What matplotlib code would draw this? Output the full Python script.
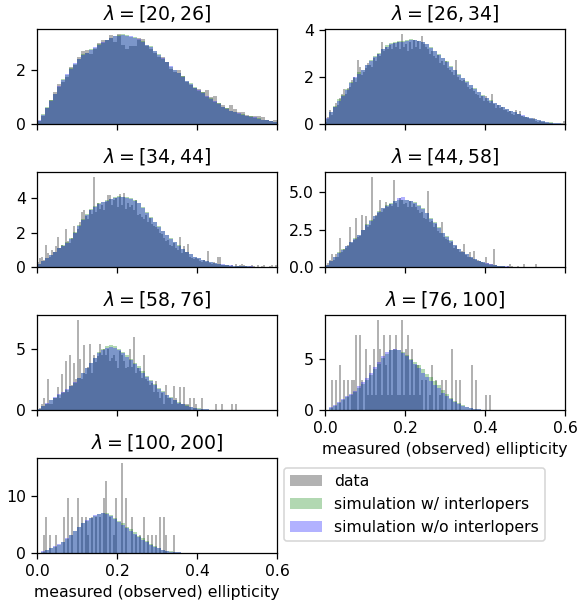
import numpy as np
import matplotlib
matplotlib.use("Agg")
import matplotlib.pyplot as plt

# richness bins
lam_bins = ["[20, 26]", "[26, 34]", "[34, 44]", "[44, 58]",
            "[58, 76]", "[76, 100]", "[100, 200]"]

# bin widths (ellipticity) used for the data / simulation histograms
data_width = [0.01, 0.005, 0.005, 0.005, 0.005, 0.005, 0.005]
sim_width = 0.01

# --- observed data, density per bin ---
data_20_26 = [0.1, 0.3, 0.6, 0.9, 1.2, 1.5, 1.55, 1.75, 2.1, 2.2,
              2.5, 2.7, 2.75, 2.6, 2.8, 3.0, 3.1, 3.1, 3.3, 3.05,
              3.35, 2.95, 2.8, 2.9, 2.9, 3.2, 3.15, 2.9, 2.8, 2.65,
              2.5, 2.5, 2.3, 2.05, 1.95, 2.0, 1.8, 1.55, 1.45, 1.35,
              1.3, 1.2, 1.25, 1.0, 1.05, 0.8, 0.7, 0.6, 0.7, 0.55,
              0.45, 0.45, 0.35, 0.3, 0.3, 0.3, 0.25, 0.15, 0.1, 0.15]
data_26_34 = [0.1, 0.3, 0.6, 0.4, 0.75, 0.9, 0.8, 1.1, 1.3, 1.5,
              1.3, 1.55, 1.6, 1.9, 2.0, 1.8, 2.75, 2.45, 2.1, 2.2,
              2.4, 2.6, 2.5, 2.45, 2.8, 2.7, 3.0, 2.9, 3.5, 3.1,
              3.3, 3.2, 3.35, 3.2, 3.45, 3.3, 3.5, 3.2, 3.85, 3.3,
              3.4, 3.1, 3.5, 3.2, 3.6, 3.3, 3.55, 3.2, 3.75, 3.4,
              3.3, 3.2, 3.0, 3.1, 2.9, 2.8, 2.95, 2.6, 2.7, 2.5,
              2.7, 2.4, 2.3, 2.2, 2.1, 2.75, 2.0, 1.9, 1.85, 1.9,
              1.75, 1.6, 1.5, 1.55, 1.4, 1.3, 1.25, 1.1, 1.2, 1.0,
              1.2, 1.0, 0.9, 1.3, 0.85, 0.7, 0.8, 0.7, 0.75, 0.6,
              0.6, 0.5, 0.55, 0.45, 0.4, 0.6, 0.45, 0.55, 0.35, 0.3,
              0.3, 0.25, 0.2, 0.2, 0.25, 0.15, 0.1, 0.12, 0.1, 0.08,
              0.05, 0.05, 0.03, 0.03, 0.02, 0.02, 0.0, 0.0, 0.05, 0.15]
data_34_44 = [0.3, 0.5, 0.6, 0.4, 1.3, 0.8, 0.6, 1.0, 0.9, 1.2,
              1.75, 1.1, 1.3, 1.2, 2.2, 1.5, 1.4, 1.7, 2.4, 2.0,
              2.2, 2.6, 3.2, 3.3, 2.95, 2.8, 3.3, 3.1, 5.25, 3.2,
              3.7, 3.4, 3.6, 3.3, 3.8, 4.2, 4.2, 3.6, 3.9, 4.0,
              3.5, 4.25, 3.6, 4.3, 3.4, 3.7, 3.5, 3.6, 3.3, 3.9,
              3.0, 3.1, 2.9, 2.8, 3.0, 2.6, 2.85, 2.5, 2.4, 2.3,
              2.2, 2.0, 1.9, 1.7, 1.5, 1.6, 1.3, 1.2, 1.4, 1.1,
              1.0, 1.75, 0.8, 1.2, 0.9, 1.35, 0.6, 0.5, 0.45, 0.5,
              0.45, 0.35, 0.3, 0.4, 0.3, 0.95, 0.25, 0.2, 0.3, 0.2,
              0.6, 0.6, 0.15, 0.1, 0.15, 0.1, 0.05, 0.1, 0.0, 0.2,
              0.05, 0.15, 0.2, 0.1, 0.05, 0.0, 0.05, 0.1, 0.05, 0.0,
              0.1, 0.0, 0.05, 0.15, 0.0, 0.0, 0.05, 0.1, 0.0, 0.1]
data_44_58 = [0.1, 0.3, 0.5, 0.9, 0.5, 0.9, 0.7, 1.95, 1.0, 1.2,
              1.3, 1.5, 2.7, 1.6, 1.8, 3.3, 2.0, 2.1, 3.5, 2.5,
              3.45, 2.7, 2.8, 6.05, 3.2, 3.5, 3.6, 4.5, 3.7, 3.9,
              4.35, 4.0, 4.2, 4.1, 5.8, 4.3, 4.0, 4.6, 4.5, 4.2,
              4.3, 4.0, 4.4, 4.0, 4.2, 4.0, 3.8, 3.6, 3.7, 3.3,
              3.2, 5.1, 3.0, 3.1, 2.7, 2.9, 2.4, 2.3, 3.0, 2.0,
              1.9, 1.8, 1.6, 1.65, 1.3, 1.4, 1.2, 1.0, 1.1, 1.55,
              0.8, 0.7, 1.0, 0.6, 1.1, 0.5, 0.45, 0.4, 0.35, 0.3,
              0.65, 0.25, 0.2, 0.2, 1.2, 0.15, 0.1, 0.1, 0.05, 0.1,
              0.0, 0.05, 0.2, 0.05, 0.0, 0.0, 0.05, 0.0, 0.0, 0.2,
              0.0, 0.0, 0.0, 0.0, 0.0, 0.2]
data_58_76 = [0.0, 0.2, 0.5, 1.0, 0.5, 2.5, 0.5, 0.5, 1.0, 1.0,
              1.85, 1.0, 2.9, 1.5, 4.0, 1.5, 4.45, 2.0, 3.8, 2.5,
              7.35, 4.15, 2.5, 5.3, 2.9, 3.5, 5.4, 3.0, 4.5, 3.9,
              4.4, 5.4, 4.5, 5.0, 4.5, 5.0, 4.0, 4.2, 4.5, 4.0,
              3.4, 4.8, 4.45, 4.0, 3.4, 3.5, 5.0, 3.5, 5.9, 3.0,
              3.4, 3.2, 2.6, 4.45, 2.5, 2.4, 2.0, 2.2, 1.5, 2.4,
              1.5, 1.0, 1.4, 0.5, 2.0, 1.0, 1.0, 0.5, 1.95, 1.0,
              0.5, 1.9, 0.5, 1.9, 0.5, 0.5, 1.0, 0.0, 1.0, 0.5,
              0.0, 0.0, 1.0, 0.0, 0.0, 0.0, 0.0, 0.0, 0.0, 0.5,
              0.0, 0.0, 0.5, 0.0, 0.0, 0.0, 0.0, 0.5, 0.0, 0.5]
data_76_100 = [0.0, 0.0, 0.0, 2.9, 0.0, 2.9, 0.0, 4.4, 0.0, 2.9,
               0.0, 2.9, 0.0, 2.9, 2.9, 7.3, 0.0, 7.3, 2.9, 0.0,
               5.9, 1.5, 4.4, 1.5, 5.9, 1.5, 8.8, 5.9, 1.5, 7.3,
               4.4, 1.5, 7.3, 1.5, 5.9, 7.3, 1.5, 1.5, 8.8, 1.5,
               5.9, 7.3, 1.5, 5.9, 1.5, 4.4, 4.4, 1.5, 2.9, 0.0,
               2.9, 0.0, 1.5, 4.4, 0.0, 2.9, 0.0, 1.5, 2.9, 0.0,
               2.9, 0.0, 0.0, 5.9, 0.0, 2.9, 0.0, 2.9, 0.0, 0.0,
               0.0, 0.0, 0.0, 4.4, 0.0, 2.9, 0.0, 0.0, 0.0, 0.0,
               1.5, 0.0, 1.5]
data_100_200 = [0.0, 0.0, 0.0, 3.2, 6.4, 0.0, 3.2, 0.0, 0.0, 3.2,
                0.0, 0.0, 0.0, 6.4, 0.0, 9.6, 0.0, 6.4, 0.0, 0.0,
                9.6, 0.0, 6.4, 0.0, 6.4, 3.2, 0.0, 6.4, 0.0, 6.4,
                0.0, 6.4, 0.0, 9.6, 12.7, 0.0, 6.4, 0.0, 3.2, 9.6,
                0.0, 0.0, 15.9, 0.0, 9.6, 0.0, 0.0, 6.4, 0.0, 3.2,
                0.0, 3.2, 0.0, 6.4, 0.0, 3.2, 0.0, 3.2, 0.0, 3.2,
                0.0, 6.4, 0.0, 6.4, 3.2, 0.0, 0.0, 0.0, 3.2]

# --- simulation with interlopers ---
sim_w_20_26 = [0.12, 0.38, 0.62, 0.9, 1.12, 1.38, 1.68, 1.82, 2.08, 2.22,
               2.42, 2.6, 2.62, 2.78, 2.82, 2.98, 3.02, 3.12, 3.18, 3.28,
               3.32, 3.35, 3.3, 3.22, 3.22, 3.12, 3.08, 2.92, 2.88, 2.72,
               2.58, 2.42, 2.32, 2.12, 2.02, 1.88, 1.78, 1.58, 1.52, 1.38,
               1.22, 1.18, 1.02, 0.98, 0.82, 0.78, 0.62, 0.58, 0.48, 0.46,
               0.38, 0.36, 0.3, 0.29, 0.24, 0.21, 0.16, 0.15, 0.11, 0.09]
sim_w_26_34 = [0.22, 0.52, 0.78, 1.05, 1.22, 1.5, 1.78, 1.98, 2.2, 2.32,
               2.52, 2.72, 2.88, 3.02, 3.22, 3.35, 3.45, 3.48, 3.55, 3.55,
               3.6, 3.62, 3.58, 3.52, 3.48, 3.42, 3.3, 3.12, 2.98, 2.82,
               2.68, 2.48, 2.32, 2.12, 1.98, 1.82, 1.68, 1.52, 1.38, 1.22,
               1.12, 1.02, 0.92, 0.82, 0.72, 0.66, 0.58, 0.5, 0.44, 0.36,
               0.32, 0.26, 0.22, 0.17, 0.14, 0.11, 0.08, 0.05, 0.04, 0.02]
sim_w_34_44 = [0.18, 0.38, 0.52, 0.72, 0.88, 1.12, 1.28, 1.45, 1.7, 2.05,
               2.45, 2.8, 3.1, 3.35, 3.55, 3.7, 3.8, 3.9, 3.98, 4.05,
               4.1, 4.08, 4.05, 4.0, 3.9, 3.72, 3.5, 3.2, 2.9, 2.62,
               2.38, 2.12, 1.88, 1.66, 1.46, 1.26, 1.06, 0.9, 0.74, 0.6,
               0.5, 0.42, 0.35, 0.3, 0.24, 0.2, 0.15, 0.12, 0.09, 0.07,
               0.06, 0.05, 0.04, 0.03, 0.03, 0.02, 0.02, 0.02, 0.01, 0.01]
sim_w_44_58 = [0.12, 0.42, 0.7, 0.98, 1.2, 1.42, 1.68, 1.92, 2.18, 2.5,
               2.85, 3.15, 3.42, 3.72, 3.95, 4.15, 4.3, 4.42, 4.48, 4.5,
               4.52, 4.45, 4.35, 4.15, 3.95, 3.65, 3.3, 3.0, 2.65, 2.3,
               2.05, 1.78, 1.48, 1.22, 1.02, 0.86, 0.7, 0.56, 0.42, 0.32,
               0.24, 0.17, 0.12, 0.08, 0.06, 0.04, 0.03, 0.02, 0.02, 0.01,
               0.01, 0.01]
sim_w_58_76 = [0.08, 0.3, 0.52, 0.78, 0.98, 1.22, 1.42, 1.62, 1.92, 2.22,
               2.58, 3.0, 3.42, 3.85, 4.25, 4.68, 5.0, 5.2, 5.3, 5.2,
               5.0, 4.75, 4.45, 4.15, 3.85, 3.55, 3.15, 2.8, 2.45, 2.1,
               1.8, 1.52, 1.26, 1.02, 0.82, 0.63, 0.49, 0.38, 0.28, 0.2,
               0.13, 0.09, 0.06, 0.04, 0.03, 0.03, 0.02, 0.02, 0.02, 0.01,
               0.01]
sim_w_76_100 = [0.04, 0.2, 0.42, 0.65, 0.95, 1.25, 1.5, 1.75, 2.15, 2.55,
                2.95, 3.4, 3.95, 4.5, 5.1, 5.5, 5.8, 5.85, 5.8, 5.6,
                5.35, 5.0, 4.7, 4.35, 3.95, 3.55, 3.2, 2.8, 2.4, 1.95,
                1.55, 1.2, 0.9, 0.66, 0.46, 0.32, 0.2, 0.12, 0.08, 0.05,
                0.04, 0.03, 0.03, 0.02, 0.02, 0.01, 0.01]
sim_w_100_200 = [0.04, 0.25, 0.52, 0.82, 1.1, 1.45, 1.9, 2.45, 3.1, 3.8,
                 4.5, 5.2, 5.7, 6.1, 6.5, 6.8, 6.95, 6.95, 6.7, 6.2,
                 5.7, 5.2, 4.65, 4.15, 3.6, 3.05, 2.55, 2.05, 1.6, 1.2,
                 0.88, 0.6, 0.4, 0.26, 0.16, 0.1, 0.07, 0.05, 0.04, 0.03,
                 0.03, 0.02, 0.02, 0.02, 0.01]

# --- simulation without interlopers ---
sim_wo_20_26 = [0.15, 0.35, 0.6, 0.85, 1.1, 1.4, 1.65, 1.85, 2.05, 2.25,
                2.4, 2.55, 2.65, 2.75, 2.85, 2.95, 3.05, 3.1, 3.2, 3.25,
                3.28, 3.3, 3.28, 3.25, 3.2, 3.15, 3.05, 2.95, 2.85, 2.7,
                2.55, 2.45, 2.3, 2.15, 2.0, 1.9, 1.75, 1.6, 1.5, 1.35,
                1.25, 1.15, 1.05, 0.95, 0.85, 0.75, 0.65, 0.55, 0.5, 0.45,
                0.4, 0.35, 0.32, 0.28, 0.25, 0.2, 0.17, 0.14, 0.12, 0.08]
sim_wo_26_34 = [0.25, 0.5, 0.75, 1.0, 1.2, 1.45, 1.75, 2.0, 2.15, 2.3,
                2.5, 2.7, 2.85, 3.0, 3.2, 3.3, 3.4, 3.45, 3.5, 3.5,
                3.55, 3.6, 3.6, 3.55, 3.5, 3.4, 3.25, 3.1, 2.95, 2.8,
                2.65, 2.45, 2.3, 2.1, 1.95, 1.8, 1.65, 1.5, 1.35, 1.2,
                1.1, 1.0, 0.9, 0.8, 0.75, 0.65, 0.55, 0.5, 0.42, 0.38,
                0.3, 0.25, 0.22, 0.18, 0.15, 0.1, 0.07, 0.05, 0.03, 0.02]
sim_wo_34_44 = [0.2, 0.35, 0.5, 0.7, 0.9, 1.1, 1.25, 1.4, 1.65, 2.0,
                2.4, 2.75, 3.05, 3.3, 3.5, 3.65, 3.75, 3.85, 3.95, 4.0,
                4.05, 4.05, 4.0, 3.95, 3.85, 3.7, 3.45, 3.15, 2.85, 2.6,
                2.35, 2.1, 1.85, 1.65, 1.45, 1.25, 1.05, 0.9, 0.75, 0.6,
                0.5, 0.42, 0.36, 0.3, 0.25, 0.2, 0.16, 0.12, 0.1, 0.08,
                0.06, 0.05, 0.04, 0.04, 0.03, 0.03, 0.02, 0.02, 0.02, 0.01]
sim_wo_44_58 = [0.15, 0.4, 0.65, 0.95, 1.15, 1.4, 1.65, 1.9, 2.15, 2.45,
                2.8, 3.1, 3.4, 3.7, 3.95, 4.1, 4.25, 4.4, 4.6, 4.7,
                4.5, 4.4, 4.3, 4.1, 3.9, 3.6, 3.25, 2.95, 2.6, 2.25,
                2.0, 1.75, 1.45, 1.2, 1.0, 0.85, 0.7, 0.55, 0.42, 0.33,
                0.25, 0.18, 0.13, 0.09, 0.06, 0.05, 0.04, 0.03, 0.02, 0.02,
                0.01, 0.01, 0.01]
sim_wo_58_76 = [0.1, 0.35, 0.6, 0.85, 1.05, 1.3, 1.5, 1.7, 1.95, 2.25,
                2.6, 3.0, 3.4, 3.8, 4.2, 4.6, 4.9, 5.05, 5.1, 5.05,
                4.85, 4.6, 4.35, 4.05, 3.75, 3.45, 3.05, 2.7, 2.35, 2.0,
                1.7, 1.45, 1.2, 0.98, 0.78, 0.6, 0.46, 0.36, 0.26, 0.18,
                0.12, 0.08, 0.05, 0.04, 0.03, 0.03, 0.02, 0.02, 0.02, 0.01,
                0.01]
sim_wo_76_100 = [0.05, 0.25, 0.5, 0.75, 1.05, 1.35, 1.6, 1.85, 2.3, 2.75,
                 3.15, 3.6, 4.15, 4.7, 5.3, 5.65, 5.85, 5.9, 5.8, 5.55,
                 5.25, 4.85, 4.45, 4.05, 3.6, 3.2, 2.85, 2.45, 2.1, 1.7,
                 1.35, 1.05, 0.8, 0.6, 0.42, 0.3, 0.18, 0.1, 0.07, 0.05,
                 0.04, 0.03, 0.03, 0.02, 0.02, 0.01, 0.01]
sim_wo_100_200 = [0.05, 0.3, 0.6, 0.9, 1.2, 1.55, 2.0, 2.55, 3.2, 3.9,
                  4.6, 5.3, 5.8, 6.2, 6.6, 6.85, 7.0, 6.9, 6.5, 5.95,
                  5.4, 4.9, 4.35, 3.85, 3.3, 2.8, 2.3, 1.85, 1.45, 1.1,
                  0.8, 0.55, 0.38, 0.25, 0.15, 0.1, 0.07, 0.05, 0.04, 0.03,
                  0.03, 0.02, 0.02, 0.02, 0.01]

data_all = [data_20_26, data_26_34, data_34_44, data_44_58,
            data_58_76, data_76_100, data_100_200]
sim_w_all = [sim_w_20_26, sim_w_26_34, sim_w_34_44, sim_w_44_58,
             sim_w_58_76, sim_w_76_100, sim_w_100_200]
sim_wo_all = [sim_wo_20_26, sim_wo_26_34, sim_wo_34_44, sim_wo_44_58,
              sim_wo_58_76, sim_wo_76_100, sim_wo_100_200]


def draw_hist(ax, heights, width, **kw):
    heights = np.asarray(heights, dtype=float)
    edges = np.arange(len(heights) + 1) * width
    centers = 0.5 * (edges[:-1] + edges[1:])
    return ax.hist(centers, bins=edges, weights=heights, **kw)


DPI = 113.5
fig, axes = plt.subplots(4, 2, figsize=(579 / DPI, 608 / DPI), dpi=DPI)
fig.subplots_adjust(left=0.064, right=0.976, top=0.952, bottom=0.0905,
                    wspace=0.2, hspace=0.505)
axes = axes.flatten()

handles = None
for i in range(7):
    ax = axes[i]
    _, _, p1 = draw_hist(ax, data_all[i], data_width[i], color="k", alpha=0.3,
                         label="data")
    _, _, p2 = draw_hist(ax, sim_w_all[i], sim_width, color="g", alpha=0.3,
                         label="simulation w/ interlopers")
    _, _, p3 = draw_hist(ax, sim_wo_all[i], sim_width, color="b", alpha=0.3,
                         label="simulation w/o interlopers")
    if handles is None:
        handles = [p1[0], p2[0], p3[0]]
    ax.set_title(r"$\lambda = %s$" % lam_bins[i])
    ax.set_xlim(0, 0.6)
    ax.set_xticks([0.0, 0.2, 0.4, 0.6])
    if i in (5, 6):
        ax.set_xlabel("measured (observed) ellipticity")
    else:
        ax.set_xticklabels([])

axes[7].axis("off")
fig.legend(handles, ["data", "simulation w/ interlopers",
                     "simulation w/o interlopers"],
           loc="upper left", bbox_to_anchor=(0.4905, 0.2303),
           borderaxespad=0)

fig.savefig("out.png", dpi=DPI)
